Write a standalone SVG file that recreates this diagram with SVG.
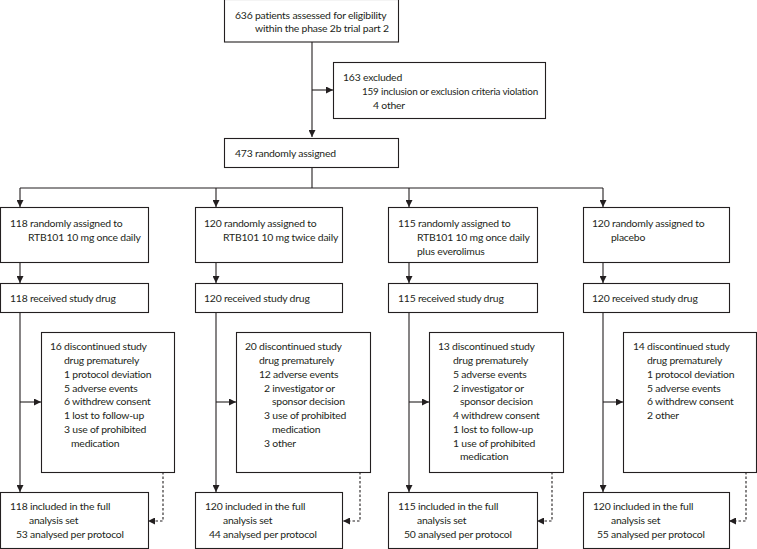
<svg xmlns="http://www.w3.org/2000/svg" width="757" height="549" viewBox="0 0 757 549">
<style>
.b{fill:#fff;stroke:#231f20;stroke-width:1.1}
.t{font-family:Lato,"Open Sans","Liberation Sans",sans-serif;font-size:10.4px;letter-spacing:-0.2px;fill:#231f20}
.c{fill:none;stroke:#231f20;stroke-width:1.1}
.d{fill:none;stroke:#231f20;stroke-width:1.1;stroke-dasharray:2.5 2}
</style>
<defs>
<marker id="a" viewBox="0 0 10 10" refX="10" refY="5" markerWidth="7" markerHeight="7" markerUnits="userSpaceOnUse" orient="auto"><path d="M0,0L10,5L0,10z" fill="#231f20"/></marker>
</defs>
<rect width="757" height="549" fill="#fff"/>
<g id="connectors">
<path class="c" d="M312,42V137" marker-end="url(#a)"/>
<path class="c" d="M312,90H333" marker-end="url(#a)"/>
<path class="c" d="M312,167V188"/>
<path class="c" d="M20,188H603"/>
<path class="c" d="M20,188V207" marker-end="url(#a)"/>
<path class="c" d="M216,188V207" marker-end="url(#a)"/>
<path class="c" d="M409,188V207" marker-end="url(#a)"/>
<path class="c" d="M603,188V207" marker-end="url(#a)"/>
<path class="c" d="M20,262V283" marker-end="url(#a)"/>
<path class="c" d="M216,262V283" marker-end="url(#a)"/>
<path class="c" d="M409,262V283" marker-end="url(#a)"/>
<path class="c" d="M603,262V283" marker-end="url(#a)"/>
<path class="c" d="M20,312V492" marker-end="url(#a)"/>
<path class="c" d="M216,312V492" marker-end="url(#a)"/>
<path class="c" d="M409,312V492" marker-end="url(#a)"/>
<path class="c" d="M603,312V492" marker-end="url(#a)"/>
<path class="c" d="M20,402H41" marker-end="url(#a)"/>
<path class="c" d="M216,402H236" marker-end="url(#a)"/>
<path class="c" d="M409,402H429" marker-end="url(#a)"/>
<path class="c" d="M603,402H623" marker-end="url(#a)"/>
<path class="d" d="M163,472V521H148" marker-end="url(#a)"/>
<path class="d" d="M360,472V521H343" marker-end="url(#a)"/>
<path class="d" d="M552,472V521H537" marker-end="url(#a)"/>
<path class="d" d="M746,472V521H729" marker-end="url(#a)"/>
</g>
<g id="n-eligibility"><rect class="b" x="224.5" y="-0.5" width="174" height="42.5"/>
<text class="t" x="235" y="19">636 patients assessed for eligibility</text>
<text class="t" x="255" y="32">within the phase 2b trial part 2</text></g>
<g id="n-excluded"><rect class="b" x="333.5" y="62.5" width="212" height="56"/>
<text class="t" x="343" y="81">163 excluded</text>
<text class="t" x="362" y="95" textLength="176" lengthAdjust="spacingAndGlyphs">159 inclusion or exclusion criteria violation</text>
<text class="t" x="373" y="109">4 other</text></g>
<g id="n-randomised"><rect class="b" x="224.5" y="138.5" width="174" height="29"/>
<text class="t" x="235" y="157">473 randomly assigned</text></g>

<g id="n-arm1"><rect class="b" x="0.5" y="207.5" width="148" height="55"/>
<text class="t" x="10" y="227">118 randomly assigned to</text>
<text class="t" x="28" y="241">RTB101 10 mg once daily</text></g>
<g id="n-arm2"><rect class="b" x="195.5" y="207.5" width="147" height="55"/>
<text class="t" x="204" y="227">120 randomly assigned to</text>
<text class="t" x="223" y="241">RTB101 10 mg twice daily</text></g>
<g id="n-arm3"><rect class="b" x="388.5" y="207.5" width="149" height="55"/>
<text class="t" x="398" y="227">115 randomly assigned to</text>
<text class="t" x="417" y="241">RTB101 10 mg once daily</text>
<text class="t" x="417" y="255">plus everolimus</text></g>
<g id="n-arm4"><rect class="b" x="583.5" y="207.5" width="146" height="55"/>
<text class="t" x="592" y="227">120 randomly assigned to</text>
<text class="t" x="611" y="241">placebo</text></g>

<g id="n-recv1"><rect class="b" x="0.5" y="283.5" width="148" height="29"/>
<text class="t" x="10" y="302">118 received study drug</text></g>
<g id="n-recv2"><rect class="b" x="195.5" y="283.5" width="147" height="29"/>
<text class="t" x="204" y="302">120 received study drug</text></g>
<g id="n-recv3"><rect class="b" x="388.5" y="283.5" width="149" height="29"/>
<text class="t" x="398" y="302">115 received study drug</text></g>
<g id="n-recv4"><rect class="b" x="583.5" y="283.5" width="146" height="29"/>
<text class="t" x="592" y="302">120 received study drug</text></g>

<g id="n-disc1"><rect class="b" x="41.5" y="332.5" width="133" height="140"/>
<text class="t" x="50" y="350">16 discontinued study</text>
<text class="t" x="64" y="364">drug prematurely</text>
<text class="t" x="64" y="378">1 protocol deviation</text>
<text class="t" x="64" y="391.5">5 adverse events</text>
<text class="t" x="64" y="405">6 withdrew consent</text>
<text class="t" x="64" y="419">1 lost to follow-up</text>
<text class="t" x="64" y="432.5">3 use of prohibited</text>
<text class="t" x="71" y="446.5">medication</text></g>
<g id="n-disc2"><rect class="b" x="236.5" y="332.5" width="134" height="140"/>
<text class="t" x="245" y="350">20 discontinued study</text>
<text class="t" x="259" y="364">drug prematurely</text>
<text class="t" x="259" y="378">12 adverse events</text>
<text class="t" x="264" y="391.5">2 investigator or</text>
<text class="t" x="272" y="405">sponsor decision</text>
<text class="t" x="264" y="419">3 use of prohibited</text>
<text class="t" x="272" y="432.5">medication</text>
<text class="t" x="264" y="446.5">3 other</text></g>
<g id="n-disc3"><rect class="b" x="429.5" y="332.5" width="134" height="140"/>
<text class="t" x="438" y="350">13 discontinued study</text>
<text class="t" x="453" y="364">drug prematurely</text>
<text class="t" x="453" y="378">5 adverse events</text>
<text class="t" x="453" y="391.5">2 investigator or</text>
<text class="t" x="460" y="405">sponsor decision</text>
<text class="t" x="453" y="419">4 withdrew consent</text>
<text class="t" x="453" y="432.5">1 lost to follow-up</text>
<text class="t" x="453" y="446.5">1 use of prohibited</text>
<text class="t" x="460" y="460">medication</text></g>
<g id="n-disc4"><rect class="b" x="623.5" y="332.5" width="133" height="140"/>
<text class="t" x="633" y="350">14 discontinued study</text>
<text class="t" x="647" y="364">drug prematurely</text>
<text class="t" x="647" y="378">1 protocol deviation</text>
<text class="t" x="647" y="391.5">5 adverse events</text>
<text class="t" x="647" y="405">6 withdrew consent</text>
<text class="t" x="647" y="419">2 other</text></g>

<g id="n-fas1"><rect class="b" x="0.5" y="492.5" width="148" height="56"/>
<text class="t" x="10" y="510">118 included in the full</text>
<text class="t" x="29" y="524">analysis set</text>
<text class="t" x="16" y="538">53 analysed per protocol</text></g>
<g id="n-fas2"><rect class="b" x="195.5" y="492.5" width="147" height="56"/>
<text class="t" x="205" y="510">120 included in the full</text>
<text class="t" x="223" y="524">analysis set</text>
<text class="t" x="209" y="538">44 analysed per protocol</text></g>
<g id="n-fas3"><rect class="b" x="388.5" y="492.5" width="149" height="56"/>
<text class="t" x="398" y="510">115 included in the full</text>
<text class="t" x="417" y="524">analysis set</text>
<text class="t" x="404" y="538">50 analysed per protocol</text></g>
<g id="n-fas4"><rect class="b" x="583.5" y="492.5" width="146" height="56"/>
<text class="t" x="593" y="510">120 included in the full</text>
<text class="t" x="611" y="524">analysis set</text>
<text class="t" x="597" y="538">55 analysed per protocol</text></g>
</svg>
